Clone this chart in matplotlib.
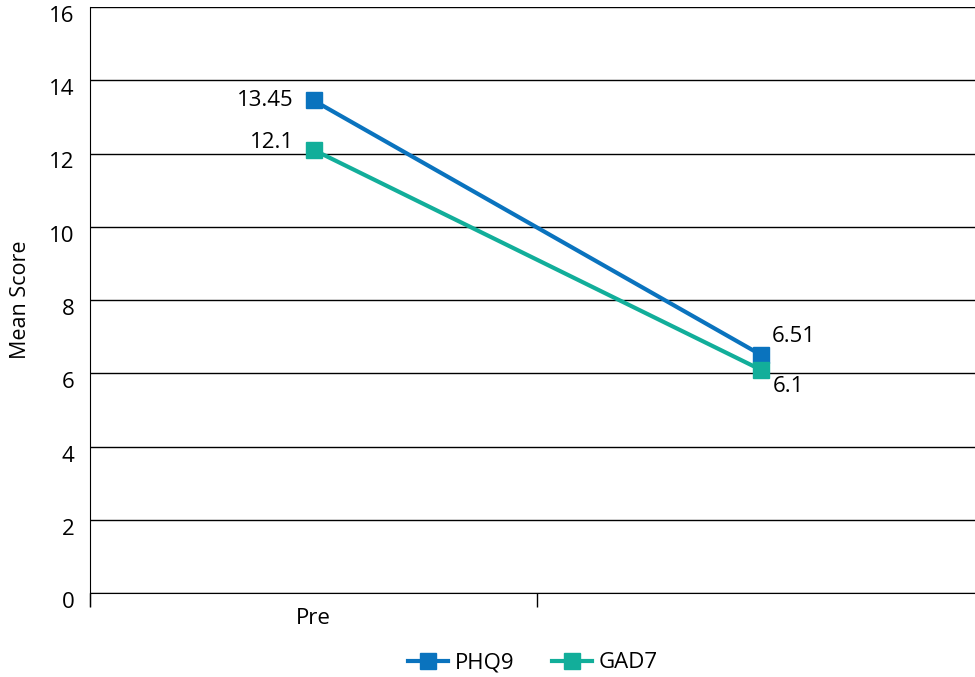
import matplotlib.pyplot as plt
import matplotlib.transforms as mtransforms
import numpy as np

plt.rcParams['font.family'] = ['Open Sans', 'DejaVu Sans']

# Datos
categorias = ['Pre', 'Post']
etiquetas_x = ['Pre', '']
phq9 = [13.45, 6.51]
gad7 = [12.1, 6.1]

fig = plt.figure(figsize=(9.75, 6.77), dpi=100)
ax = fig.add_axes([90/975, 1-593/677, 894/975, 586/677])

x = np.arange(len(categorias)) + 0.5

ax.plot(x, phq9, color='#0A73BE', lw=3, marker='s', ms=12, label='PHQ9', zorder=3)
ax.plot(x, gad7, color='#12AE9A', lw=3, marker='s', ms=12, label='GAD7', zorder=3)

# Etiquetas de valores
kw = dict(textcoords='offset points', fontsize=16, va='center')
ax.annotate(str(phq9[0]), (x[0], phq9[0]), xytext=(-14, 0), ha='right', **kw)
ax.annotate(str(gad7[0]), (x[0], gad7[0]), xytext=(-14, 5), ha='right', **kw)
ax.annotate(str(phq9[1]), (x[1], phq9[1]), xytext=(8, 13), ha='left', **kw)
ax.annotate(str(gad7[1]), (x[1], gad7[1]), xytext=(9, -12), ha='left', **kw)

# Ejes
ax.set_xlim(0, 2)
ax.set_ylim(0, 16)
ax.set_yticks(range(0, 17, 2))
ax.yaxis.grid(True, color='black', lw=1)
ax.set_axisbelow(True)
ax.tick_params(axis='y', length=0, pad=11, labelsize=16)
# bajar un poco los números del eje y
desplazamiento = mtransforms.ScaledTranslation(0, -7/100, fig.dpi_scale_trans)
for lbl in ax.get_yticklabels():
    lbl.set_transform(lbl.get_transform() + desplazamiento)

ax.set_xticks(x)
ax.set_xticklabels(etiquetas_x)
ax.set_xticks([0, 1, 2], minor=True)
ax.tick_params(axis='x', which='major', length=0, pad=11, labelsize=16)
ax.tick_params(axis='x', which='minor', length=10, width=1, color='black')

for s in ['top', 'right']:
    ax.spines[s].set_visible(False)
ax.spines['left'].set_color('black')
ax.spines['bottom'].set_color('black')
ax.spines['left'].set_bounds(-0.35, 16)

ax.set_ylabel('Mean Score', fontsize=15.5, labelpad=13)

fig.legend(loc='center', bbox_to_anchor=(533/975, 1-663/677), ncol=2, frameon=False,
           fontsize=16, handlelength=1.8, columnspacing=1.7, handletextpad=0.3)

plt.savefig('out.png', dpi=100)
